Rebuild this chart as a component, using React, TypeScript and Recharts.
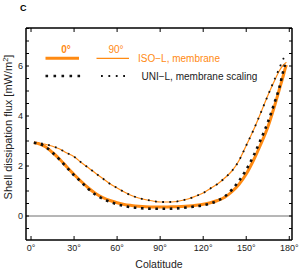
import React from 'react';
import { LineChart, Line, XAxis, YAxis, ReferenceLine } from 'recharts';

const lat = [2, 5, 10, 15, 20, 25, 30, 35, 40, 45, 50, 55, 60, 65, 70, 75, 80, 85, 90, 95, 100, 105, 110, 115, 120, 125, 130, 135, 140, 145, 150, 155, 160, 165, 170, 173, 176, 177, 178];
const iso0 = [2.93, 2.9, 2.77, 2.54, 2.27, 1.96, 1.66, 1.38, 1.12, 0.9, 0.74, 0.62, 0.53, 0.46, 0.42, 0.39, 0.37, 0.36, 0.36, 0.36, 0.37, 0.38, 0.4, 0.43, 0.47, 0.53, 0.62, 0.75, 0.97, 1.27, 1.68, 2.22, 2.85, 3.55, 4.45, 5.05, 5.65, 5.87, 6.04];
const iso90 = [2.93, 2.92, 2.87, 2.79, 2.68, 2.52, 2.37, 2.14, 1.93, 1.71, 1.5, 1.29, 1.12, 0.96, 0.82, 0.72, 0.65, 0.6, 0.56, 0.56, 0.57, 0.62, 0.69, 0.8, 0.92, 1.1, 1.28, 1.52, 1.8, 2.22, 2.82, 3.43, 4.11, 4.81, 5.45, 5.8, 6.05, 6.1, 6.15];
const uni0 = [2.93, 2.9, 2.77, 2.53, 2.25, 1.94, 1.63, 1.36, 1.08, 0.85, 0.69, 0.57, 0.47, 0.4, 0.35, 0.32, 0.3, 0.29, 0.29, 0.29, 0.3, 0.32, 0.35, 0.39, 0.43, 0.5, 0.61, 0.78, 1.05, 1.41, 1.85, 2.4, 3.04, 3.74, 4.58, 5.12, 5.84, 6.05, null];
const uni90 = [2.93, 2.92, 2.87, 2.79, 2.68, 2.52, 2.37, 2.14, 1.93, 1.71, 1.5, 1.29, 1.12, 0.96, 0.82, 0.72, 0.65, 0.6, 0.56, 0.56, 0.57, 0.62, 0.69, 0.8, 0.92, 1.1, 1.28, 1.52, 1.8, 2.22, 2.82, 3.43, 4.11, 4.81, 5.5, 5.9, 6.3, 6.38, null];

const xTicks = [0, 30, 60, 90, 120, 150, 180];
const yTicks = [-0.5, 0, 0.5, 1, 1.5, 2, 2.5, 3, 3.5, 4, 4.5, 5, 5.5, 6, 6.5, 7, 7.5];
const yLabels = [0, 2, 4, 6];

const rows = lat.map((l, i) => ({ lat: l, iso0: iso0[i], iso90: iso90[i], uni0: uni0[i], uni90: uni90[i] }));

const ORANGE = '#FF8A12';
const FONT = '"Liberation Sans", Arial, sans-serif';

const BottomTick = (p: any) => {
  const { x, y, payload } = p;
  return (
    <g>
      <line x1={x} x2={x} y1={y} y2={y - 4} stroke="#000" strokeWidth={1} />
      <text x={x} y={y + 11} textAnchor="middle" fontSize={9} fill="#222" fontFamily={FONT}>{payload.value}°</text>
    </g>
  );
};
const TopTick = (p: any) => {
  const { x, y } = p;
  return <line x1={x} x2={x} y1={y} y2={y + 4} stroke="#000" strokeWidth={1} />;
};
const LeftTick = (p: any) => {
  const { x, y, payload } = p;
  const lab = yLabels.includes(payload.value);
  return (
    <g>
      <line x1={x} x2={x + 3} y1={y} y2={y} stroke="#000" strokeWidth={1} />
      {lab && <text x={x - 3} y={y + 3.2} textAnchor="end" fontSize={9} fill="#222" fontFamily={FONT}>{payload.value}</text>}
    </g>
  );
};
const RightTick = (p: any) => {
  const { x, y } = p;
  return <line x1={x} x2={x - 3} y1={y} y2={y} stroke="#000" strokeWidth={1} />;
};

const axisLine = { stroke: '#000', strokeWidth: 1.5 };

export default function App() {
  return (
    <div style={{ position: 'absolute', left: 0, top: 0, width: 300, height: 271, background: '#fff', fontFamily: FONT }}>
      <LineChart width={300} height={271} data={rows} margin={{ top: 27, right: 7, bottom: 0, left: 0 }}>
        <XAxis xAxisId="b" dataKey="lat" type="number" domain={[-3.5, 181.9]} ticks={xTicks} interval={0} orientation="bottom" height={31} tickSize={0} tickMargin={0} tickLine={false} axisLine={axisLine} tick={<BottomTick />} allowDataOverflow />
        <XAxis xAxisId="t" dataKey="lat" type="number" domain={[-3.5, 181.9]} ticks={xTicks} interval={0} orientation="top" height={1} tickSize={0} tickMargin={0} tickLine={false} axisLine={axisLine} tick={<TopTick />} allowDataOverflow />
        <YAxis yAxisId="l" type="number" domain={[-0.96, 7.52]} ticks={yTicks} interval={0} orientation="left" width={26} tickSize={0} tickMargin={0} tickLine={false} axisLine={axisLine} tick={<LeftTick />} allowDataOverflow />
        <YAxis yAxisId="r" type="number" domain={[-0.96, 7.52]} ticks={yTicks} interval={0} orientation="right" width={1} tickSize={0} tickMargin={0} tickLine={false} axisLine={axisLine} tick={<RightTick />} allowDataOverflow />
        <ReferenceLine xAxisId="b" yAxisId="l" y={0} stroke="#6e6e6e" strokeWidth={1} />
        <Line xAxisId="t" yAxisId="r" dataKey="iso90" stroke="none" dot={false} isAnimationActive={false} />
        <Line xAxisId="b" yAxisId="l" type="monotone" dataKey="iso90" stroke={ORANGE} strokeWidth={1.2} dot={false} isAnimationActive={false} />
        <Line xAxisId="b" yAxisId="l" type="monotone" dataKey="iso0" stroke={ORANGE} strokeWidth={3} dot={false} isAnimationActive={false} />
        <Line xAxisId="b" yAxisId="l" type="monotone" dataKey="uni90" stroke="#111" strokeWidth={1.8} strokeDasharray="1.8 5.4" dot={false} isAnimationActive={false} />
        <Line xAxisId="b" yAxisId="l" type="monotone" dataKey="uni0" stroke="#111" strokeWidth={2.6} strokeDasharray="2.6 4.6" dot={false} isAnimationActive={false} />
      </LineChart>
      <svg width={300} height={271} style={{ position: 'absolute', left: 0, top: 0, pointerEvents: 'none' }}>
        <text x={20} y={10.5} fontSize={9} fontWeight="bold" fill="#000" fontFamily={FONT}>C</text>
        <text x={66} y={53} textAnchor="middle" fontSize={10} fill={ORANGE} fontWeight="bold" fontFamily={FONT}>0°</text>
        <line x1={45.5} x2={79} y1={58.3} y2={58.3} stroke={ORANGE} strokeWidth={3} />
        <text x={116} y={53} textAnchor="middle" fontSize={10} fill={ORANGE} fontFamily={FONT}>90°</text>
        <line x1={96.5} x2={129} y1={58.3} y2={58.3} stroke={ORANGE} strokeWidth={1.2} />
        <text x={138} y={62} fontSize={10} fill={ORANGE} fontFamily={FONT}>ISO−L, membrane</text>
        <line x1={45.5} x2={81} y1={76} y2={76} stroke="#111" strokeWidth={2.6} strokeDasharray="2.6 5.4" />
        <line x1={101} x2={127} y1={76} y2={76} stroke="#111" strokeWidth={1.8} strokeDasharray="1.8 5.6" />
        <text x={141.5} y={79.5} fontSize={10} fill="#222" fontFamily={FONT}>UNI−L, membrane scaling</text>
        <text x={159} y={268.3} textAnchor="middle" fontSize={10.5} fill="#222" fontFamily={FONT}>Colatitude</text>
        <text transform="translate(12.3,127) rotate(-90)" textAnchor="middle" fontSize={11} fill="#222" fontFamily={FONT}>
          Shell dissipation flux [mW/m<tspan dy={-4} fontSize={7.5}>2</tspan><tspan dy={4}>]</tspan>
        </text>
      </svg>
    </div>
  );
}
